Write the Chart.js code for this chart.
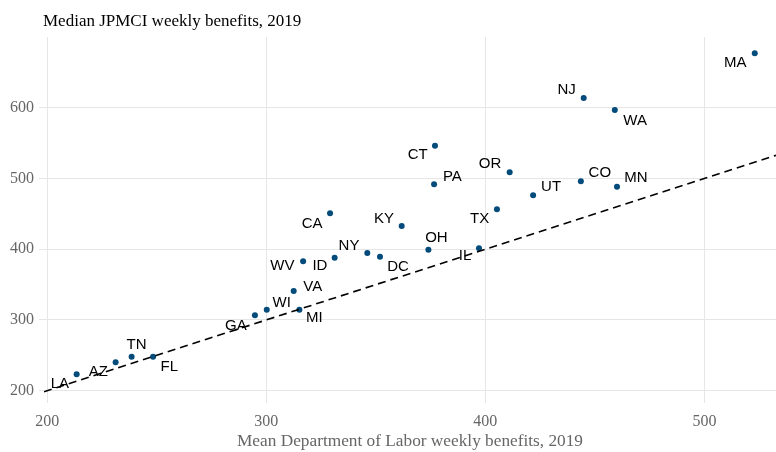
<!DOCTYPE html>
<html>
<head>
<meta charset="utf-8">
<script src="https://cdn.jsdelivr.net/npm/chart.js@4"></script>
<style>
  html, body { margin: 0; padding: 0; background: #fff; }
  #wrap { position: relative; width: 776px; height: 452px; }
</style>
</head>
<body>
<div id="wrap"><canvas id="c" width="776" height="452"></canvas></div>
<script>
// ---- Data ----
const states = ['LA','AZ','TN','FL','GA','WI','VA','MI','WV','ID','CA','NY','DC','KY','OH','IL','TX','CT','PA','OR','UT','CO','MN','NJ','WA','MA'];
const dolBenefits = [213.4,231.2,238.5,248.3,294.8,300.2,312.5,315.1,316.8,331.2,329.1,346.1,351.9,361.8,374.0,397.1,405.3,377.0,376.6,411.1,421.8,443.6,460.1,444.9,459.1,523.0];
const jpmciBenefits = [223.2,240.1,248.1,248.1,306.6,314.5,340.9,314.5,382.9,388.0,450.7,394.6,389.4,432.8,399.3,401.3,456.5,546.3,491.7,508.7,476.2,496.0,488.3,613.7,596.7,676.9];
const xTicks = [200, 300, 400, 500];
const yTicks = [200, 300, 400, 500, 600];
const titleText = 'Median JPMCI weekly benefits, 2019';
const xTitleText = 'Mean Department of Labor weekly benefits, 2019';

// ---- Layout / style (label offsets in px, relative to point) ----
const labelOffsets = {
  LA:[-16.7,10], AZ:[-17.4,9.4], TN:[5,-11.7], FL:[16.3,10], GA:[-19,10.7], WI:[15,-7],
  VA:[19,-3.7], MI:[15,8.6], WV:[-20.7,4.7], ID:[-14.7,8.3], CA:[-18,10.4], NY:[-18.3,-7.3],
  DC:[18,10], KY:[-17.7,-7.3], OH:[8,-11.4], IL:[-14,7.7], TX:[-17.4,10], CT:[-17.3,9.3],
  PA:[18.3,-7.6], OR:[-19.7,-8.3], UT:[18,-8], CO:[19,-8.3], MN:[19,-8.4], NJ:[-17,-8],
  WA:[20.3,11], MA:[-19.4,10]
};
const X_MIN = 198.5, X_MAX = 532.7, Y_MIN = 182.6, Y_MAX = 700;
const pointColor = '#034b7b';
const gridColor = '#e6e6e6';
const tickColor = '#666666';
const serif = '"Liberation Serif", "Times New Roman", serif';

const points = states.map((s, i) => ({ x: dolBenefits[i], y: jpmciBenefits[i], label: s }));
const refLine = [{ x: X_MIN, y: X_MIN }, { x: X_MAX, y: X_MAX }];

const labelPlugin = {
  id: 'labels',
  afterDatasetsDraw(chart) {
    const ctx = chart.ctx;
    const meta = chart.getDatasetMeta(1);
    ctx.save();
    ctx.font = '15px "Liberation Sans", Arial, sans-serif';
    ctx.fillStyle = '#000';
    ctx.textAlign = 'center';
    ctx.textBaseline = 'middle';
    meta.data.forEach((el, i) => {
      const s = states[i];
      const o = labelOffsets[s] || [0, 0];
      ctx.fillText(s, el.x + o[0], el.y + o[1]);
    });
    ctx.restore();
  }
};

const titlePlugin = {
  id: 'titles',
  afterDraw(chart) {
    const ctx = chart.ctx;
    const a = chart.chartArea;
    ctx.save();
    ctx.font = '17px ' + serif;
    ctx.fillStyle = '#000';
    ctx.textAlign = 'left';
    ctx.textBaseline = 'alphabetic';
    ctx.fillText(titleText, 43, 26);
    ctx.font = '17.3px ' + serif;
    ctx.fillStyle = tickColor;
    ctx.textAlign = 'center';
    ctx.fillText(xTitleText, (a.left + a.right) / 2, 446);
    ctx.restore();
  }
};

new Chart(document.getElementById('c'), {
  type: 'scatter',
  data: {
    datasets: [
      {
        type: 'line',
        data: refLine,
        borderColor: '#000',
        borderWidth: 1.6,
        borderDash: [8, 5],
        pointRadius: 0,
        fill: false,
        clip: 0
      },
      {
        data: points,
        backgroundColor: pointColor,
        borderColor: pointColor,
        pointRadius: 3,
        borderWidth: 0
      }
    ]
  },
  options: {
    responsive: false,
    animation: false,
    devicePixelRatio: 1,
    layout: { autoPadding: false, padding: { top: 37, right: 0, left: 0, bottom: 0 } },
    plugins: { legend: { display: false }, tooltip: { enabled: false }, title: { display: false } },
    scales: {
      x: {
        type: 'linear',
        min: X_MIN, max: X_MAX,
        afterBuildTicks: (s) => { s.ticks = xTicks.map(v => ({ value: v })); },
        afterFit: (s) => { s.height = 49; s.paddingLeft = 0; s.paddingRight = 0; },
        grid: { color: gridColor, lineWidth: 1, drawTicks: false },
        border: { display: false },
        ticks: { color: tickColor, padding: 9, maxRotation: 0, font: { family: serif, size: 16 } }
      },
      y: {
        type: 'linear',
        min: Y_MIN, max: Y_MAX,
        afterBuildTicks: (s) => { s.ticks = yTicks.map(v => ({ value: v })); },
        afterFit: (s) => { s.width = 44; s.paddingTop = 0; s.paddingBottom = 0; },
        grid: { color: gridColor, lineWidth: 1, drawTicks: true, tickLength: 5, tickColor: gridColor },
        border: { display: false },
        ticks: { color: tickColor, padding: 5, font: { family: serif, size: 16 } }
      }
    }
  },
  plugins: [labelPlugin, titlePlugin]
});
</script>
</body>
</html>
